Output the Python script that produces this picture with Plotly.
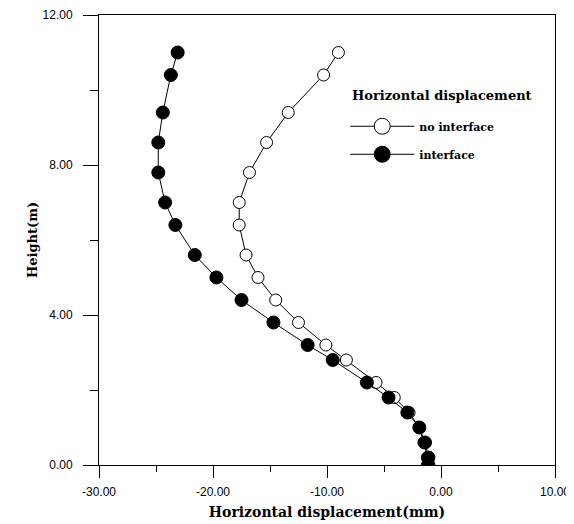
import plotly.graph_objects as go

height = [0.0, 0.2, 0.6, 1.0, 1.4, 1.8, 2.2, 2.8, 3.2, 3.8, 4.4, 5.0, 5.6, 6.4, 7.0, 7.8, 8.6, 9.4, 10.4, 11.0]
no_interface = [-1.2, -1.2, -1.5, -1.9, -2.8, -4.1, -5.7, -8.3, -10.1, -12.5, -14.5, -16.05, -17.1, -17.7, -17.7, -16.8, -15.3, -13.4, -10.3, -9.0]
interface = [-1.1, -1.1, -1.4, -1.9, -2.95, -4.6, -6.5, -9.5, -11.7, -14.7, -17.5, -19.7, -21.6, -23.3, -24.2, -24.8, -24.8, -24.4, -23.7, -23.1]

x_ticks = [-30, -20, -10, 0, 10]
x_tick_labels = ["-30.00", "-20.00", "-10.00", "0.00", "10.00"]
y_ticks = [0, 4, 8, 12]
y_tick_labels = ["0.00", "4.00", "8.00", "12.00"]

serif = "DejaVu Serif"
sans = "Liberation Sans"

fig = go.Figure()
fig.add_trace(go.Scatter(x=no_interface, y=height, mode="lines+markers", showlegend=False,
                         line=dict(color="black", width=1),
                         marker=dict(symbol="circle", size=12, color="white",
                                     line=dict(color="black", width=1))))
fig.add_trace(go.Scatter(x=interface, y=height, mode="lines+markers", showlegend=False,
                         line=dict(color="black", width=1),
                         marker=dict(symbol="circle", size=13, color="black",
                                     line=dict(color="black", width=1))))
# legend entries
fig.add_trace(go.Scatter(x=[None], y=[None], mode="lines+markers", name="<b>no interface</b>",
                         legendgroup="a",
                         line=dict(color="black", width=1),
                         marker=dict(symbol="circle", size=16, color="white",
                                     line=dict(color="black", width=1))))
fig.add_trace(go.Scatter(x=[None], y=[None], mode="lines+markers", name="<b>interface</b>",
                         legendgroup="b",
                         line=dict(color="black", width=1),
                         marker=dict(symbol="circle", size=16, color="black",
                                     line=dict(color="black", width=1))))

fig.update_layout(
    width=566, height=516,
    margin=dict(l=91, r=19, t=7, b=59),
    paper_bgcolor="white", plot_bgcolor="white",
    font=dict(family=sans, color="black", size=12),
    legend=dict(
        x=0.54, y=0.785, xanchor="left", yanchor="top",
        bgcolor="rgba(0,0,0,0)",
        font=dict(family=serif, size=11),
        itemwidth=64, tracegroupgap=9,
    ),
    annotations=[dict(
        text="<b>Horizontal displacement</b>", xref="paper", yref="paper",
        x=0.55, y=0.822, xanchor="left", yanchor="middle", showarrow=False,
        font=dict(family=serif, size=13, color="black"),
    )],
)
fig.update_xaxes(
    range=[-30, 10], tickmode="array", tickvals=x_ticks, ticktext=x_tick_labels,
    ticks="outside", ticklen=12, tickwidth=1, tickcolor="black",
    minor=dict(dtick=5, ticks="outside", ticklen=6, tickcolor="black", showgrid=False),
    showline=True, linecolor="black", linewidth=1, mirror=True,
    showgrid=False, zeroline=False, automargin=False,
    ticklabelstandoff=4,
    tickfont=dict(family=sans, size=12),
    title=dict(text="<b>Horizontal displacement(mm)</b>", font=dict(family=serif, size=14), standoff=8),
)
fig.update_yaxes(
    range=[0, 12], tickmode="array", tickvals=y_ticks, ticktext=y_tick_labels,
    ticks="outside", ticklen=15, tickwidth=1, tickcolor="black",
    minor=dict(dtick=2, ticks="outside", ticklen=8, tickcolor="black", showgrid=False),
    showline=True, linecolor="black", linewidth=1, mirror=True,
    showgrid=False, zeroline=False, automargin=False,
    ticklabelstandoff=8,
    tickfont=dict(family=sans, size=12),
    title=dict(text="<b>Height(m)</b>", font=dict(family=serif, size=13), standoff=2),
)

fig.write_html("out.html")
